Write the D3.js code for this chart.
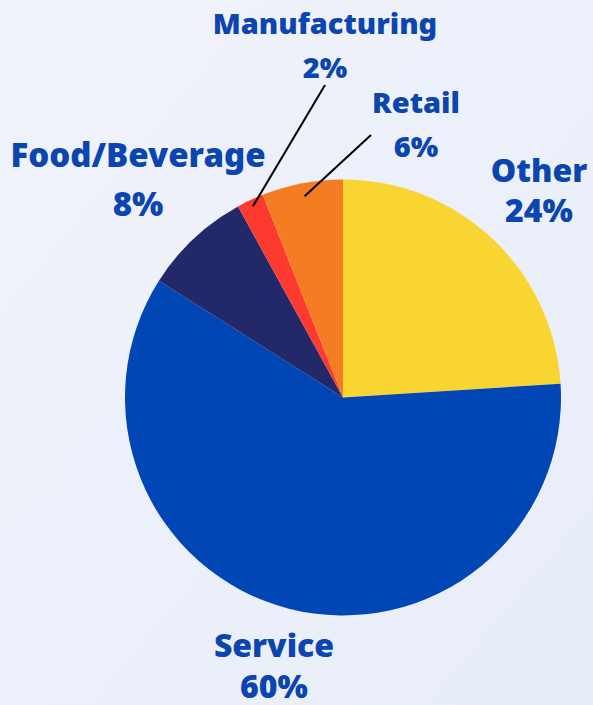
<!DOCTYPE html>
<html>
<head>
<meta charset="utf-8">
<script src="https://cdn.jsdelivr.net/npm/d3@7"></script>
<style>
  html, body { margin: 0; padding: 0; }
  body { width: 593px; height: 705px; overflow: hidden; }
</style>
</head>
<body>
<div id="chart"></div>
<script>
var svgWidth = 593;
var svgHeight = 705;

// data, clockwise from 12 o'clock
var categories = ["Other", "Service", "Food/Beverage", "Manufacturing", "Retail"];
var shares = [24, 60, 8, 2, 6];
var sliceColors = ["#F9D531", "#0047B5", "#232868", "#FC3A2F", "#F47D24"];
var shareLabels = ["24%", "60%", "8%", "2%", "6%"];

var cx = 343, cy = 397.5, radius = 218;

var svg = d3.select("#chart")
  .append("svg")
  .attr("width", svgWidth)
  .attr("height", svgHeight);

var defs = svg.append("defs");
var grad = defs.append("linearGradient")
  .attr("id", "bg")
  .attr("x1", "0").attr("y1", "0")
  .attr("x2", "1").attr("y2", "1");
grad.append("stop").attr("offset", "0%").attr("stop-color", "#f1f3fb");
grad.append("stop").attr("offset", "100%").attr("stop-color", "#e7edf9");

svg.append("rect")
  .attr("width", svgWidth)
  .attr("height", svgHeight)
  .attr("fill", "url(#bg)");

var pie = d3.pie().sort(null).value(d => d);
var arc = d3.arc().innerRadius(0).outerRadius(radius);

var pieGroup = svg.append("g")
  .attr("transform", `translate(${cx}, ${cy})`);

pieGroup.selectAll("path")
  .data(pie(shares))
  .enter()
  .append("path")
  .attr("d", arc)
  .attr("fill", (d, i) => sliceColors[i]);

// label placement (centre x, baseline of name, baseline of percent, size)
var labelPos = [
  { x: 539, y1: 182, y2: 222, size: 32 },
  { x: 274, y1: 657, y2: 698, size: 32 },
  { x: 138, y1: 167, y2: 216, size: 33 },
  { x: 325, y1: 34, y2: 78, size: 29 },
  { x: 416, y1: 113, y2: 157, size: 29 }
];

// leader lines: from label down to a point near the slice's outer edge
var leaders = [
  { i: 3, x1: 325, y1: 85, r: 0.97 },
  { i: 4, x1: 371, y1: 135, r: 0.94 }
];

var pieData = pie(shares);
leaders.forEach(function (l) {
  var d = pieData[l.i];
  var c = d3.arc().innerRadius(radius * l.r).outerRadius(radius * l.r).centroid(d);
  svg.append("line")
    .attr("x1", l.x1).attr("y1", l.y1)
    .attr("x2", cx + c[0]).attr("y2", cy + c[1])
    .attr("stroke", "#000")
    .attr("stroke-width", 2);
});

var labels = svg.selectAll(".lbl")
  .data(categories)
  .enter()
  .append("text")
  .attr("class", "lbl")
  .attr("text-anchor", "middle")
  .attr("fill", "#0A45B0")
  .attr("font-family", "'Noto Sans', sans-serif")
  .attr("font-weight", 900)
  .attr("font-size", (d, i) => labelPos[i].size);

labels.append("tspan")
  .attr("x", (d, i) => labelPos[i].x)
  .attr("y", (d, i) => labelPos[i].y1)
  .text(d => d);

labels.append("tspan")
  .attr("x", (d, i) => labelPos[i].x)
  .attr("y", (d, i) => labelPos[i].y2)
  .text((d, i) => shareLabels[i]);
</script>
</body>
</html>
